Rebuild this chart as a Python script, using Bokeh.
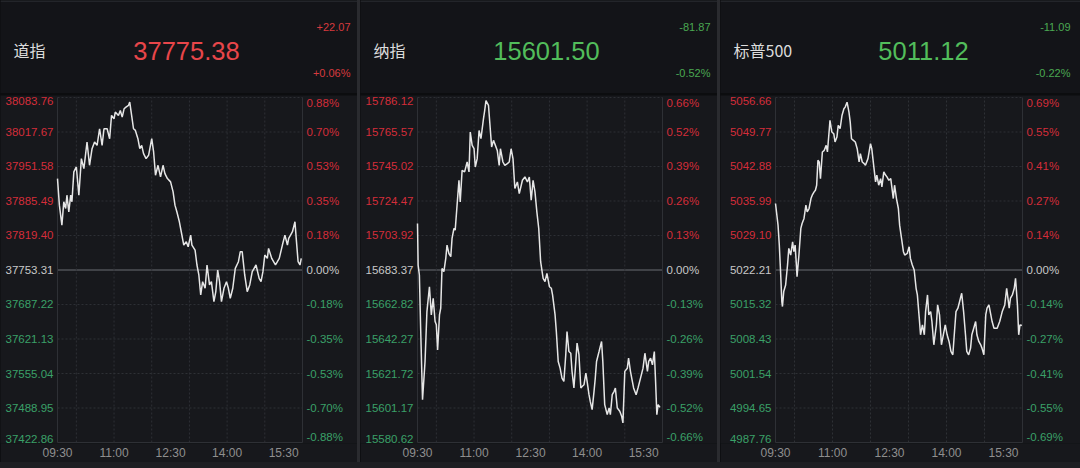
from bokeh.plotting import figure
from bokeh.models import ColumnDataSource, Range1d, FixedTicker, Spacer
from bokeh.layouts import row, column
from bokeh.core.properties import value
from bokeh.embed import file_html
from bokeh.resources import INLINE

# ---------------- data ----------------
names = ["道指", "纳指", "标普500"]
last_prices = ["37775.38", "15601.50", "5011.12"]
changes = ["+22.07", "-81.87", "-11.09"]
change_pcts = ["+0.06%", "-0.52%", "-0.22%"]

time_ticks = [0, 90, 180, 270, 360]
time_labels = ["09:30", "11:00", "12:30", "14:00", "15:30"]
hour_lines = [30, 90, 150, 210, 270, 330]
session_minutes = 390

dow_price_ticks = ["38083.76", "38017.67", "37951.58", "37885.49", "37819.40", "37753.31",
                   "37687.22", "37621.13", "37555.04", "37488.95", "37422.86"]
dow_pct_ticks = ["0.88%", "0.70%", "0.53%", "0.35%", "0.18%", "0.00%",
                 "-0.18%", "-0.35%", "-0.53%", "-0.70%", "-0.88%"]
dow_min = [0, 3, 7, 10, 13, 15, 18, 21, 23, 26, 30, 34, 38, 42, 47, 51, 55, 59, 63, 67,
           71, 74, 79, 83, 86, 90, 92, 97, 100, 103, 106, 109, 113, 115, 118, 121, 124, 128, 131, 134,
           137, 141, 145, 150, 153, 156, 160, 164, 168, 171, 175, 180, 184, 187, 190, 194, 197, 201, 205, 208,
           212, 214, 219, 222, 225, 228, 231, 235, 238, 242, 245, 249, 252, 255, 258, 261, 265, 269, 272, 275,
           279, 283, 288, 291, 294, 298, 302, 306, 310, 313, 316, 321, 324, 327, 330, 334, 336, 341, 344, 347,
           350, 353, 358, 362, 366, 368, 371, 374, 378, 380, 383, 386, 388]
dow_val = [37928.4, 37877.5, 37839.3, 37883.9, 37871.1, 37896.6, 37864.8, 37896.6, 37883.9, 37941.2,
           37950.7, 37896.6, 37966.6, 37947.5, 37998.5, 37953.9, 37985.7, 37998.5, 37992.1, 38023.9,
           37992.1, 38023.9, 38023.9, 38004.8, 38049.4, 38043.0, 38055.8, 38049.4, 38058.9, 38046.2,
           38062.1, 38065.3, 38068.5, 38074.9, 38049.4, 38023.9, 38020.7, 38004.8, 37985.7, 37992.1,
           37976.2, 37966.6, 37973.0, 38004.8, 37979.4, 37934.8, 37953.9, 37931.6, 37953.9, 37938.0,
           37928.4, 37922.1, 37903.0, 37877.5, 37864.8, 37845.7, 37826.6, 37801.1, 37807.5, 37797.9,
           37820.2, 37801.1, 37791.5, 37762.9, 37743.8, 37705.6, 37731.0, 37718.3, 37762.9, 37724.7,
           37731.0, 37692.8, 37711.9, 37753.3, 37731.0, 37692.8, 37718.3, 37731.0, 37718.3, 37699.2,
           37718.3, 37756.5, 37769.2, 37788.4, 37788.4, 37743.8, 37711.9, 37724.7, 37750.1, 37756.5,
           37762.9, 37737.4, 37731.0, 37750.1, 37782.0, 37775.6, 37794.7, 37775.6, 37769.2, 37762.9,
           37769.2, 37775.6, 37801.1, 37820.2, 37801.1, 37813.8, 37820.2, 37826.6, 37845.7, 37813.8,
           37769.2, 37762.9, 37775.38]

ndx_price_ticks = ["15786.12", "15765.57", "15745.02", "15724.47", "15703.92", "15683.37",
                   "15662.82", "15642.27", "15621.72", "15601.17", "15580.62"]
ndx_pct_ticks = ["0.66%", "0.52%", "0.39%", "0.26%", "0.13%", "0.00%",
                 "-0.13%", "-0.26%", "-0.39%", "-0.52%", "-0.66%"]
ndx_min = [0, 1, 3, 5, 8, 12, 15, 19, 22, 25, 28, 30, 32, 35, 37, 39, 42, 45, 47, 50,
           53, 55, 58, 60, 63, 66, 68, 71, 75, 79, 82, 84, 87, 90, 92, 95, 98, 101, 105, 107,
           109, 113, 115, 118, 121, 124, 127, 130, 132, 136, 139, 143, 146, 149, 152, 155, 159, 162, 167, 171,
           175, 178, 181, 184, 187, 190, 193, 196, 200, 203, 206, 210, 213, 215, 219, 221, 224, 227, 230, 233,
           236, 238, 241, 244, 246, 249, 252, 254, 257, 260, 262, 265, 268, 270, 273, 275, 278, 281, 283, 285,
           289, 293, 295, 298, 302, 305, 307, 310, 313, 315, 318, 322, 325, 327, 330, 334, 336, 339, 342, 344,
           348, 351, 355, 359, 362, 366, 368, 371, 374, 377, 379, 381, 383, 386]
ndx_val = [15711.1, 15686.3, 15680.4, 15648.7, 15606.1, 15628.9, 15658.6, 15673.4, 15656.6, 15666.5,
           15652.7, 15650.7, 15635.8, 15656.6, 15660.6, 15684.3, 15682.4, 15690.3, 15698.2, 15693.2,
           15691.3, 15702.2, 15708.1, 15707.1, 15722.0, 15736.8, 15723.9, 15742.7, 15741.8, 15747.7,
           15741.8, 15765.5, 15757.6, 15755.6, 15744.7, 15749.7, 15766.5, 15761.6, 15773.4, 15778.4,
           15784.3, 15781.4, 15771.5, 15756.6, 15760.6, 15757.6, 15754.6, 15745.7, 15755.6, 15747.7,
           15745.7, 15746.7, 15747.7, 15755.6, 15749.7, 15731.9, 15735.8, 15728.9, 15736.8, 15738.8,
           15735.8, 15738.8, 15724.9, 15736.8, 15729.9, 15718.0, 15708.1, 15688.3, 15678.4, 15676.4,
           15681.4, 15673.4, 15672.5, 15668.5, 15656.6, 15646.7, 15628.9, 15624.9, 15619.0, 15617.0,
           15632.9, 15646.7, 15634.8, 15633.8, 15623.0, 15613.1, 15628.9, 15639.8, 15632.9, 15613.1,
           15614.0, 15615.0, 15622.0, 15617.0, 15609.1, 15605.1, 15600.2, 15611.1, 15619.0, 15628.9,
           15634.8, 15640.8, 15628.9, 15603.2, 15597.2, 15601.2, 15597.2, 15609.1, 15611.1, 15613.1,
           15601.2, 15599.2, 15596.2, 15592.3, 15623.0, 15624.9, 15630.9, 15623.0, 15617.0, 15613.1,
           15609.1, 15613.1, 15619.0, 15624.9, 15633.8, 15623.0, 15628.9, 15630.9, 15626.9, 15634.8,
           15617.0, 15597.2, 15603.2, 15601.50]

spx_price_ticks = ["5056.66", "5049.77", "5042.88", "5035.99", "5029.10", "5022.21",
                   "5015.32", "5008.43", "5001.54", "4994.65", "4987.76"]
spx_pct_ticks = ["0.69%", "0.55%", "0.41%", "0.27%", "0.14%", "0.00%",
                 "-0.14%", "-0.27%", "-0.41%", "-0.55%", "-0.69%"]
spx_min = [0, 4, 6, 8, 10, 11, 13, 16, 19, 21, 24, 27, 29, 31, 33, 34, 37, 40, 42, 45,
           48, 50, 53, 56, 58, 61, 63, 65, 67, 69, 71, 74, 77, 80, 82, 85, 86, 89, 92, 94,
           97, 99, 102, 105, 108, 110, 113, 116, 118, 120, 123, 126, 129, 132, 134, 137, 140, 142, 146, 150,
           152, 155, 158, 160, 163, 166, 168, 171, 174, 176, 179, 182, 186, 188, 191, 194, 196, 199, 202, 204,
           208, 211, 213, 216, 219, 222, 224, 227, 229, 232, 235, 237, 240, 242, 245, 247, 250, 254, 256, 259,
           262, 265, 268, 271, 274, 277, 280, 283, 285, 288, 292, 294, 297, 300, 302, 305, 308, 310, 313, 316,
           318, 321, 324, 326, 329, 332, 334, 337, 340, 342, 345, 348, 350, 354, 358, 362, 365, 369, 371, 374,
           377, 379, 382, 384, 386, 389]
spx_val = [5035.49, 5031.17, 5027.19, 5021.88, 5015.90, 5014.91, 5017.90, 5019.22, 5023.21, 5026.53,
           5025.20, 5027.85, 5025.86, 5027.19, 5023.21, 5020.88, 5025.20, 5030.51, 5031.50, 5032.50,
           5035.15, 5033.83, 5034.49, 5036.48, 5037.15, 5037.81, 5038.14, 5039.14, 5044.12, 5043.78,
           5040.46, 5045.78, 5046.11, 5047.10, 5045.78, 5050.42, 5052.08, 5049.76, 5049.43, 5047.77,
           5048.76, 5051.09, 5050.42, 5053.08, 5054.40, 5054.74, 5055.73, 5053.74, 5051.75, 5048.43,
           5048.10, 5047.77, 5046.44, 5043.78, 5045.44, 5043.78, 5043.45, 5043.12, 5044.45, 5047.43,
           5046.44, 5043.12, 5039.80, 5041.13, 5039.14, 5040.46, 5038.81, 5041.79, 5041.13, 5040.80,
           5040.13, 5040.46, 5036.48, 5039.14, 5036.48, 5034.49, 5031.17, 5028.52, 5025.86, 5025.20,
           5025.53, 5026.86, 5024.53, 5023.21, 5022.21, 5018.56, 5017.23, 5012.59, 5009.27, 5011.26,
           5009.27, 5013.91, 5017.23, 5013.25, 5013.91, 5011.92, 5007.27, 5011.26, 5015.24, 5013.25,
           5007.27, 5009.27, 5011.26, 5009.27, 5007.94, 5005.95, 5005.28, 5010.59, 5013.91, 5014.58,
           5016.57, 5017.56, 5013.91, 5009.27, 5005.95, 5005.28, 5006.61, 5009.27, 5010.59, 5011.92,
           5009.27, 5007.94, 5007.27, 5006.61, 5005.28, 5013.25, 5014.58, 5015.24, 5013.25, 5011.92,
           5010.59, 5010.59, 5010.59, 5011.92, 5013.91, 5015.24, 5018.56, 5014.58, 5016.57, 5017.23,
           5018.56, 5020.55, 5015.24, 5009.27, 5011.26, 5011.12]

# ---------------- style ----------------
FONT = "Liberation Sans"
CJK = "Noto Sans CJK SC"
HEADER_BG = "#131418"
CHART_BG = "#17181c"
RED_AXIS = "#d42d3a"
GREEN_AXIS = "#3aa068"
ZERO_TXT = "#c8c8c8"
RED_BIG = "#e8464a"
RED_SMALL = "#d63a3e"
GREEN_BIG = "#52bd5b"
GREEN_SMALL = "#4aa852"
GRID = "#2e3035"
BORDER = "#2e3035"
ZERO_LINE = "#404247"
LINE = "#e6e6e6"

PANEL_W = [357, 357, 360]
PANEL_GAP = 3
HEADER_H = 93
DIVIDER_H = 2
CHART_H = 367
STRIP_H = 6
AXIS_H = 18
FRAME_LEFT = [57, 57, 55]
FRAME_RIGHT = 302
price_x_center = [186, 186, 203]


def make_header(i, W):
    up = changes[i].startswith("+")
    big_c = RED_BIG if up else GREEN_BIG
    small_c = RED_SMALL if up else GREEN_SMALL
    p = figure(width=W, height=HEADER_H, x_range=Range1d(0, W), y_range=Range1d(HEADER_H, 0),
               toolbar_location=None, output_backend="svg", x_axis_type=None, y_axis_type=None,
               min_border=0, background_fill_color=HEADER_BG, border_fill_color=HEADER_BG,
               outline_line_color=None)
    p.xgrid.visible = False
    p.ygrid.visible = False
    p.segment(x0=[0], x1=[W], y0=[0.5], y1=[0.5], line_color="#2a2b30", line_width=1.5)
    p.text(x=[13], y=[49], text=[names[i]], text_color="#dcdcdc", text_align="left",
           text_baseline="middle", text_font=value(CJK), text_font_size=value("16px"))
    p.text(x=[price_x_center[i]], y=[50], text=[last_prices[i]], text_color=big_c,
           text_align="center", text_baseline="middle", text_font=value(FONT),
           text_font_size=value("25.5px"))
    p.text(x=[350, 350], y=[26, 72], text=[changes[i], change_pcts[i]], text_color=small_c,
           text_align="right", text_baseline="middle", text_font=value(FONT),
           text_font_size=value("11px"))
    return p


def make_chart(i, W, minutes, prices, price_ticks, pct_ticks):
    frame_h = CHART_H - AXIS_H
    top_px, bot_px = 2, frame_h - 1
    ticks = [float(t) for t in price_ticks]
    hi, lo = ticks[0], ticks[-1]
    k = (hi - lo) / (bot_px - top_px)
    y_end = hi + top_px * k
    y_start = lo - (frame_h - bot_px) * k
    left_px, right_px = FRAME_LEFT[i], FRAME_RIGHT
    m = session_minutes / (right_px - left_px)
    x_start = -left_px * m
    x_end = session_minutes + (W - right_px) * m

    p = figure(width=W, height=CHART_H, x_range=Range1d(x_start, x_end),
               y_range=Range1d(y_start, y_end), y_axis_type=None,
               toolbar_location=None, output_backend="svg",
               min_border_left=0, min_border_right=0, min_border_top=0,
               min_border_bottom=AXIS_H,
               background_fill_color=CHART_BG, border_fill_color=CHART_BG,
               outline_line_color=None)
    p.xgrid.visible = False
    p.ygrid.visible = False

    base = ticks[len(ticks) // 2]
    # horizontal grid lines
    dotted = [t for t in ticks if t != base and t != lo]
    p.segment(x0=0, x1=session_minutes, y0=dotted, y1=dotted, line_color=GRID,
              line_width=1, line_dash="2 2")
    p.segment(x0=0, x1=session_minutes, y0=[lo], y1=[lo], line_color=BORDER, line_width=1)
    p.segment(x0=0, x1=session_minutes, y0=[base], y1=[base], line_color=ZERO_LINE, line_width=2)
    # vertical grid lines
    p.segment(x0=hour_lines, x1=hour_lines, y0=lo, y1=hi, line_color=GRID, line_width=1,
              line_dash="2 2")
    p.segment(x0=[0, session_minutes], x1=[0, session_minutes], y0=lo, y1=hi,
              line_color=BORDER, line_width=1)

    # price line
    p.line(minutes, prices, line_color=LINE, line_width=1.5)

    # tick labels (left price, right percent)
    colors = [RED_AXIS if t > base else (ZERO_TXT if t == base else GREEN_AXIS) for t in ticks]
    baselines = ["top"] + ["middle"] * (len(ticks) - 2) + ["bottom"]
    src = ColumnDataSource(dict(y=ticks, price=price_ticks, pct=pct_ticks, color=colors,
                                baseline=baselines))
    p.text(x=-4 * m, y="y", text="price", source=src, text_color="color", text_align="right",
           text_baseline="baseline", text_font=value(FONT), text_font_size=value("11.5px"))
    p.text(x=session_minutes + 4 * m, y="y", text="pct", source=src, text_color="color",
           text_align="left", text_baseline="baseline", text_font=value(FONT),
           text_font_size=value("11.5px"))

    ax = p.xaxis[0]
    ax.ticker = FixedTicker(ticks=time_ticks)
    ax.major_label_overrides = {t: l for t, l in zip(time_ticks, time_labels)}
    ax.axis_line_color = None
    ax.major_tick_line_color = None
    ax.minor_tick_line_color = None
    ax.major_tick_out = 0
    ax.major_tick_in = 0
    ax.major_label_standoff = 2
    ax.major_label_text_color = "#8f8f8f"
    ax.major_label_text_font = FONT
    ax.major_label_text_font_size = "12px"
    return p


series = [
    (dow_min, dow_val, dow_price_ticks, dow_pct_ticks),
    (ndx_min, ndx_val, ndx_price_ticks, ndx_pct_ticks),
    (spx_min, spx_val, spx_price_ticks, spx_pct_ticks),
]

panels = []
for i, (mins, vals, pt, pc) in enumerate(series):
    W = PANEL_W[i]
    h = make_header(i, W)
    c = make_chart(i, W, mins, vals, pt, pc)
    panels.append(column(h, c, spacing=DIVIDER_H, styles={"background-color": "#0c0d0f"}))

top = row(*panels, spacing=PANEL_GAP, styles={"background-color": "#2a2b2f"})
strip = Spacer(width=sum(PANEL_W) + 2 * PANEL_GAP, height=STRIP_H,
               styles={"background-color": "#1e1f23"})
layout = column(top, strip, spacing=0)

open("out.html", "w").write(file_html(layout, INLINE))
